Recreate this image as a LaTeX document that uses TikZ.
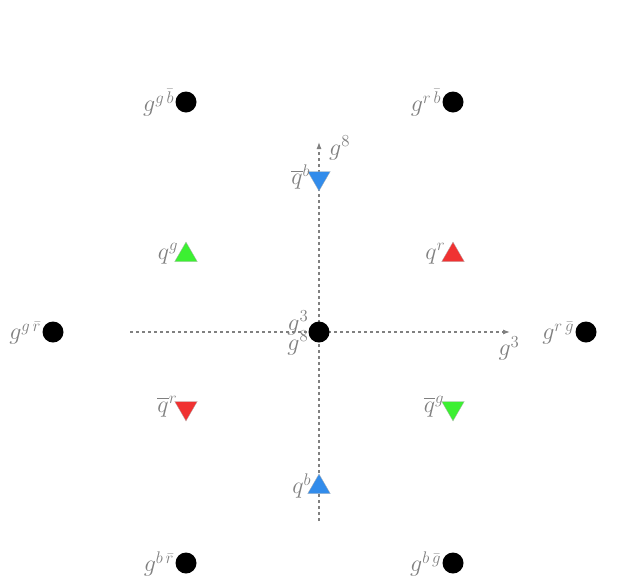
\RequirePackage{fix-cm}
\documentclass[tikz,border=0pt]{standalone}
\usepackage{amsmath,amssymb}
\usepackage{tikz}
\usetikzlibrary{positioning,arrows.meta,shapes.geometric}

\begin{document}
\begin{tikzpicture}[
  x=1pt, y=-1pt,
  node distance=1pt and 1pt,
  gluon/.style={circle, fill=black, inner sep=0pt, minimum size=21pt},
  quark/.style={regular polygon, regular polygon sides=3, draw=gray!60, line width=0.3pt,
                inner sep=0pt, minimum size=26pt},
  antiquark/.style={quark, shape border rotate=180},
  lbl/.style={text=gray, inner sep=0pt, font=\fontsize{24}{28}\selectfont},
  axis/.style={gray, line width=1.1pt, dash pattern=on 3pt off 3pt, -{Latex[length=7pt,width=5pt]}}
]
\useasboundingbox (0,0) rectangle (631,579);
\definecolor{qred}{RGB}{240,50,50}
\definecolor{qgreen}{RGB}{60,240,50}
\definecolor{qblue}{RGB}{50,140,235}

% axes
\coordinate (west) at (130,332);
\coordinate (east) at (510,332);
\coordinate (south) at (319,521);
\coordinate (north) at (319,142);
\draw[axis] (west) -- (east);
\draw[axis] (south) -- (north);
\node[lbl, below=4pt of east, xshift=-1pt] (g3axis) {$g^3$};
\node[lbl, right=10pt of north, yshift=-6pt] (g8axis) {$g^8$};

% gluons
\node[gluon] (gb) at (186,102) {};
\node[gluon] (rb) at (453,102) {};
\node[gluon] (gr) at (53,332) {};
\node[gluon] (rg) at (586,332) {};
\node[gluon] (br) at (186,563) {};
\node[gluon] (bg) at (453,563) {};
\node[gluon] (mid) at (319,332) {};
\node[lbl, left=1pt of gb, yshift=-1pt] (gbtext) {$g^{g\,\bar{b}}$};
\node[lbl, left=1pt of rb, yshift=-1pt] (rbtext) {$g^{r\,\bar{b}}$};
\node[lbl, left=1pt of gr, yshift=-1pt] (grtext) {$g^{g\,\bar{r}}$};
\node[lbl, left=1pt of rg, yshift=-1pt] (rgtext) {$g^{r\,\bar{g}}$};
\node[lbl, left=1pt of br, yshift=-1pt] (brtext) {$g^{b\,\bar{r}}$};
\node[lbl, left=1pt of bg, yshift=-1pt] (bgtext) {$g^{b\,\bar{g}}$};
\node[lbl, above left=-11pt and 3pt of mid] (g3mid) {$g^3$};
\node[lbl, below left=-9pt and 3pt of mid] (g8mid) {$g^8$};

% quarks
\node[quark, fill=qgreen] (qg) at (186,255) {};
\node[quark, fill=qred] (qr) at (453,255) {};
\node[quark, fill=qblue] (qb) at (319,487) {};
\node[antiquark, fill=qblue] (aqb) at (319,178) {};
\node[antiquark, fill=qred] (aqr) at (186,408) {};
\node[antiquark, fill=qgreen] (aqg) at (453,408) {};
\node[lbl, left=0pt of qg, yshift=1pt] (qgtext) {$q^{g}$};
\node[lbl, left=0pt of qr, yshift=1pt] (qrtext) {$q^{r}$};
\node[lbl, left=0pt of qb, yshift=1pt] (qbtext) {$q^{b}$};
\node[lbl, left=1pt of aqb, yshift=1pt] (aqbtext) {$\overline{q}^{b}$};
\node[lbl, left=1pt of aqr, yshift=1pt] (aqrtext) {$\overline{q}^{r}$};
\node[lbl, left=1pt of aqg, yshift=1pt] (aqgtext) {$\overline{q}^{g}$};
\end{tikzpicture}
\end{document}
